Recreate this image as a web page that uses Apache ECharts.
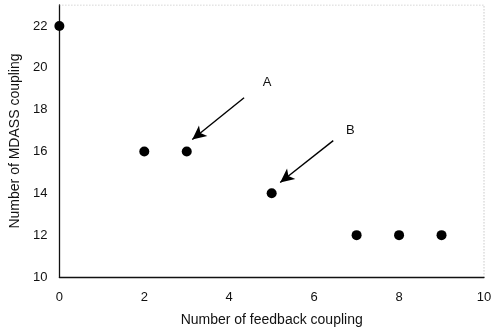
<!DOCTYPE html>
<html><head><meta charset="utf-8">
<script src="https://cdn.jsdelivr.net/npm/echarts@6/dist/echarts.min.js"></script>
<style>html,body{margin:0;padding:0;background:#fff}#c{width:497px;height:332px}</style>
</head><body><div id="c"></div>
<script>
const feedback = [0, 2, 3, 5, 7, 8, 9];
const mdass = [22, 16, 16, 14, 12, 12, 12];
const xTicks = [0, 2, 4, 6, 8, 10];
const yTicks = [10, 12, 14, 16, 18, 20, 22];
const arrowA = [[4.35, 18.57], [3.13, 16.57]];
const arrowB = [[6.45, 16.52], [5.2, 14.52]];
const labels = [{name: 'A', coord: [4.89, 19.3]}, {name: 'B', coord: [6.85, 17.0]}];

const chart = echarts.init(document.getElementById('c'));
const font = 'Liberation Sans, Arial, sans-serif';
chart.setOption({
  animation: false,
  grid: {left: 59, right: 13, top: 5, bottom: 54},
  xAxis: {
    type: 'value', min: 0, max: 10, interval: 2,
    name: 'Number of feedback coupling', nameLocation: 'middle', nameGap: 36,
    nameTextStyle: {color: '#111', fontSize: 14, fontFamily: font},
    axisLine: {show: true, onZero: false, lineStyle: {color: '#111', width: 1.3}},
    axisTick: {show: false},
    axisLabel: {color: '#111', fontSize: 13, fontFamily: font, margin: 14,
      formatter: v => xTicks.includes(v) ? String(v) : ''},
    splitLine: {show: false}
  },
  yAxis: {
    type: 'value', min: 10, max: 23, interval: 2,
    name: 'Number of MDASS coupling', nameLocation: 'middle', nameGap: 36,
    nameTextStyle: {color: '#111', fontSize: 14, fontFamily: font},
    axisLine: {show: true, onZero: false, lineStyle: {color: '#111', width: 1.3}},
    axisTick: {show: false},
    axisLabel: {color: '#111', fontSize: 13, fontFamily: font, margin: 12,
      formatter: v => yTicks.includes(v) ? String(v) : ''},
    splitLine: {show: false}
  },
  series: [
    {
      type: 'scatter', symbol: 'circle', symbolSize: 10,
      itemStyle: {color: '#000', opacity: 1},
      data: feedback.map((x, i) => [x, mdass[i]]),
      markLine: {
        silent: true, symbol: ['none', 'arrow'], symbolSize: [10, 14],
        label: {show: false},
        lineStyle: {color: '#000', width: 1.4, type: 'solid', opacity: 1},
        data: [
          [{coord: arrowA[0]}, {coord: arrowA[1]}],
          [{coord: arrowB[0]}, {coord: arrowB[1]}]
        ]
      },
      markPoint: {
        silent: true, symbol: 'circle', symbolSize: 1,
        itemStyle: {color: 'rgba(0,0,0,0)'},
        label: {show: true, color: '#111', fontSize: 13, fontFamily: font, formatter: '{b}', position: 'inside'},
        data: labels
      }
    },
    {
      type: 'line', silent: true, symbol: 'none',
      lineStyle: {color: '#999', width: 0.8, type: [1, 2]},
      data: [[0, 23], [10, 23], [10, 10]]
    }
  ]
});
</script></body></html>
